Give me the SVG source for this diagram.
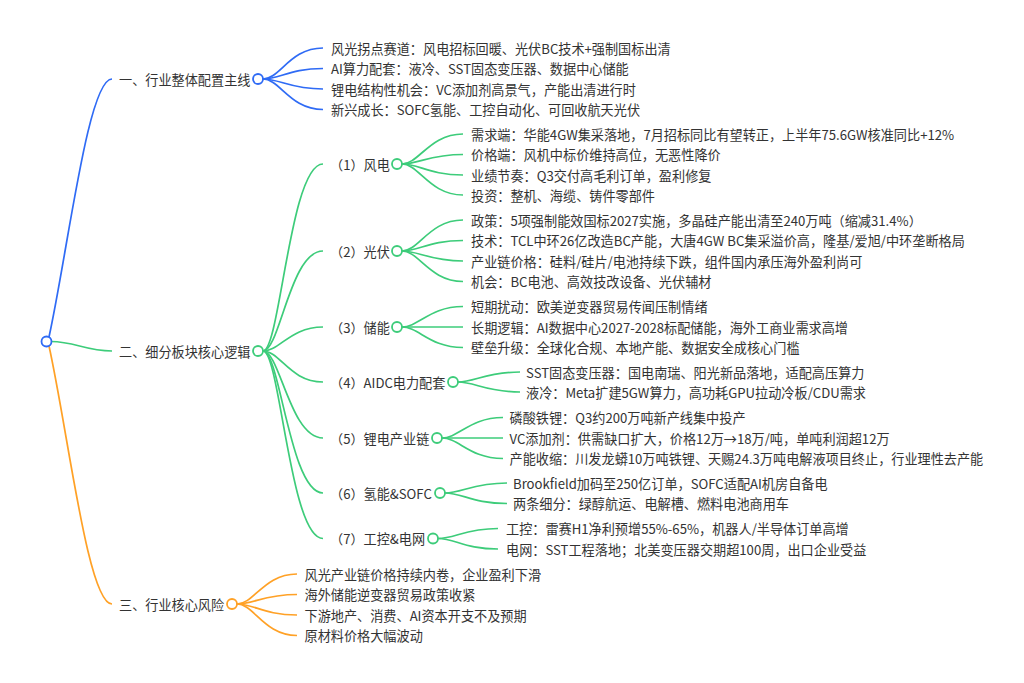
<svg xmlns="http://www.w3.org/2000/svg" width="1024" height="683" viewBox="0 0 1024 683">
<style>
text{font-family:"Noto Sans CJK SC","Noto Sans",sans-serif;font-size:13.15px;fill:#333333;dominant-baseline:central}
.b{stroke:#2F6BF5;fill:none;stroke-width:1.7}
.g{stroke:#3DCC7A;fill:none;stroke-width:1.7}
.o{stroke:#FFA126;fill:none;stroke-width:1.7}
.cb{stroke:#2F6BF5;fill:#fff;stroke-width:1.8}
.cg{stroke:#3DCC7A;fill:#fff;stroke-width:1.8}
.co{stroke:#FFA126;fill:#fff;stroke-width:1.8}
</style>
<rect width="1024" height="683" fill="#ffffff"/>
<g id="connectors">
<path class="b" d="M49 337 C68 250 88 79 112 79"/>
<path class="g" d="M51 341.5 C75 341.5 85 351 112 351"/>
<path class="o" d="M49 346 C68 432 88 604 112 604"/>
<path class="b" d="M263 79 C280 79 290 48 323 48"/>
<path class="b" d="M263 79 C280 79 290 68.5 323 68.5"/>
<path class="b" d="M263 79 C280 79 290 89 323 89"/>
<path class="b" d="M263 79 C280 79 290 109.5 323 109.5"/>
<path class="g" d="M263 351 C280 351 290 164 323 164"/>
<path class="g" d="M263 351 C280 351 290 251 323 251"/>
<path class="g" d="M263 351 C280 351 290 327 323 327"/>
<path class="g" d="M263 351 C280 351 290 382 323 382"/>
<path class="g" d="M263 351 C280 351 290 438 323 438"/>
<path class="g" d="M263 351 C280 351 290 493 323 493"/>
<path class="g" d="M263 351 C280 351 290 538.5 323 538.5"/>
<path class="o" d="M237 604 C254 604 264 574 297 574"/>
<path class="o" d="M237 604 C254 604 264 594.5 297 594.5"/>
<path class="o" d="M237 604 C254 604 264 615 297 615"/>
<path class="o" d="M237 604 C254 604 264 635.5 297 635.5"/>
<path class="g" d="M402 164 C419 164 429.5 134 463 134"/>
<path class="g" d="M402 164 C419 164 429.5 154.5 463 154.5"/>
<path class="g" d="M402 164 C419 164 429.5 175 463 175"/>
<path class="g" d="M402 164 C419 164 429.5 195 463 195"/>
<path class="g" d="M402 251 C419 251 429.5 220 463 220"/>
<path class="g" d="M402 251 C419 251 429.5 240.5 463 240.5"/>
<path class="g" d="M402 251 C419 251 429.5 261 463 261"/>
<path class="g" d="M402 251 C419 251 429.5 281.5 463 281.5"/>
<path class="g" d="M402 327 C419 327 429.5 306.5 463 306.5"/>
<path class="g" d="M402 327 C419 327 429.5 327 463 327"/>
<path class="g" d="M402 327 C419 327 429.5 347.5 463 347.5"/>
<path class="g" d="M458 382 C475 382 486 372 520 372"/>
<path class="g" d="M458 382 C475 382 486 392 520 392"/>
<path class="g" d="M442 438 C459 438 469.5 417.5 503 417.5"/>
<path class="g" d="M442 438 C459 438 469.5 438 503 438"/>
<path class="g" d="M442 438 C459 438 469.5 458.5 503 458.5"/>
<path class="g" d="M445 493 C462 493 473 483 507 483"/>
<path class="g" d="M445 493 C462 493 473 503.5 507 503.5"/>
<path class="g" d="M438 538.5 C455 538.5 465 528.5 498 528.5"/>
<path class="g" d="M438 538.5 C455 538.5 465 549 498 549"/>
</g>
<g id="root"><circle class="cb" cx="46.5" cy="341.5" r="5"/></g>
<g id="s1">
<text x="119" y="79">一、行业整体配置主线</text>
<circle class="cb" cx="258" cy="79" r="5"/>
</g>
<g id="s1-1"><text x="331" y="48">风光拐点赛道：风电招标回暖、光伏BC技术+强制国标出清</text></g>
<g id="s1-2"><text x="331" y="68.5">AI算力配套：液冷、SST固态变压器、数据中心储能</text></g>
<g id="s1-3"><text x="331" y="89">锂电结构性机会：VC添加剂高景气，产能出清进行时</text></g>
<g id="s1-4"><text x="331" y="109.5">新兴成长：SOFC氢能、工控自动化、可回收航天光伏</text></g>
<g id="s2">
<text x="119" y="351">二、细分板块核心逻辑</text>
<circle class="cg" cx="258" cy="351" r="5"/>
</g>
<g id="s2-1">
<text x="330" y="164">（1）风电</text>
<circle class="cg" cx="397" cy="164" r="5"/>
</g>
<g id="s2-1-1"><text x="471" y="134">需求端：华能4GW集采落地，7月招标同比有望转正，上半年75.6GW核准同比+12%</text></g>
<g id="s2-1-2"><text x="471" y="154.5">价格端：风机中标价维持高位，无恶性降价</text></g>
<g id="s2-1-3"><text x="471" y="175">业绩节奏：Q3交付高毛利订单，盈利修复</text></g>
<g id="s2-1-4"><text x="471" y="195">投资：整机、海缆、铸件零部件</text></g>
<g id="s2-2">
<text x="330" y="251">（2）光伏</text>
<circle class="cg" cx="397" cy="251" r="5"/>
</g>
<g id="s2-2-1"><text x="471" y="220">政策：5项强制能效国标2027实施，多晶硅产能出清至240万吨（缩减31.4%）</text></g>
<g id="s2-2-2"><text x="471" y="240.5">技术：TCL中环26亿改造BC产能，大唐4GW BC集采溢价高，隆基/爱旭/中环垄断格局</text></g>
<g id="s2-2-3"><text x="471" y="261">产业链价格：硅料/硅片/电池持续下跌，组件国内承压海外盈利尚可</text></g>
<g id="s2-2-4"><text x="471" y="281.5">机会：BC电池、高效技改设备、光伏辅材</text></g>
<g id="s2-3">
<text x="330" y="327">（3）储能</text>
<circle class="cg" cx="397" cy="327" r="5"/>
</g>
<g id="s2-3-1"><text x="471" y="306.5">短期扰动：欧美逆变器贸易传闻压制情绪</text></g>
<g id="s2-3-2"><text x="471" y="327">长期逻辑：AI数据中心2027-2028标配储能，海外工商业需求高增</text></g>
<g id="s2-3-3"><text x="471" y="347.5">壁垒升级：全球化合规、本地产能、数据安全成核心门槛</text></g>
<g id="s2-4">
<text x="330" y="382">（4）AIDC电力配套</text>
<circle class="cg" cx="453" cy="382" r="5"/>
</g>
<g id="s2-4-1"><text x="526" y="372">SST固态变压器：国电南瑞、阳光新品落地，适配高压算力</text></g>
<g id="s2-4-2"><text x="526" y="392">液冷：Meta扩建5GW算力，高功耗GPU拉动冷板/CDU需求</text></g>
<g id="s2-5">
<text x="330" y="438">（5）锂电产业链</text>
<circle class="cg" cx="437" cy="438" r="5"/>
</g>
<g id="s2-5-1"><text x="509.5" y="417.5">磷酸铁锂：Q3约200万吨新产线集中投产</text></g>
<g id="s2-5-2"><text x="509.5" y="438">VC添加剂：供需缺口扩大，价格12万→18万/吨，单吨利润超12万</text></g>
<g id="s2-5-3"><text x="509.5" y="458.5">产能收缩：川发龙蟒10万吨铁锂、天赐24.3万吨电解液项目终止，行业理性去产能</text></g>
<g id="s2-6">
<text x="330" y="493">（6）氢能&amp;SOFC</text>
<circle class="cg" cx="440" cy="493" r="5"/>
</g>
<g id="s2-6-1"><text x="513" y="483">Brookfield加码至250亿订单，SOFC适配AI机房自备电</text></g>
<g id="s2-6-2"><text x="513" y="503.5">两条细分：绿醇航运、电解槽、燃料电池商用车</text></g>
<g id="s2-7">
<text x="330" y="538.5">（7）工控&amp;电网</text>
<circle class="cg" cx="433" cy="538.5" r="5"/>
</g>
<g id="s2-7-1"><text x="506" y="528.5">工控：雷赛H1净利预增55%-65%，机器人/半导体订单高增</text></g>
<g id="s2-7-2"><text x="506" y="549">电网：SST工程落地；北美变压器交期超100周，出口企业受益</text></g>
<g id="s3">
<text x="119" y="604">三、行业核心风险</text>
<circle class="co" cx="232" cy="604" r="5"/>
</g>
<g id="s3-1"><text x="304.5" y="574">风光产业链价格持续内卷，企业盈利下滑</text></g>
<g id="s3-2"><text x="304.5" y="594.5">海外储能逆变器贸易政策收紧</text></g>
<g id="s3-3"><text x="304.5" y="615">下游地产、消费、AI资本开支不及预期</text></g>
<g id="s3-4"><text x="304.5" y="635.5">原材料价格大幅波动</text></g>
</svg>
